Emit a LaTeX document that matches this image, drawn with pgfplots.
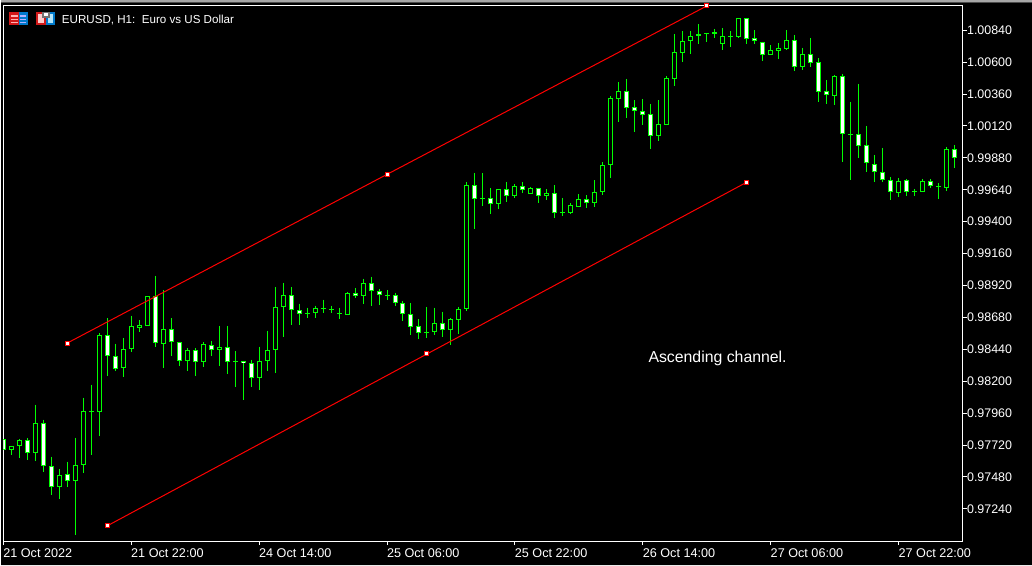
\documentclass[border=0pt]{standalone}
\usepackage{fontspec}
\setmainfont{Liberation Sans}
\usepackage{pgfplots}
\usepackage{pgfplotstable}
\pgfplotsset{compat=1.18}

\definecolor{candle}{RGB}{0,255,0}
\definecolor{chan}{RGB}{255,0,0}

% x = bar number (8 px per bar), h = high, t/b = top and bottom of the body, l = low
% rising bars, hollow (black)
\pgfplotstableread{
x h t b l
1 0.97713 0.97713 0.97680 0.97643
2 0.97765 0.97758 0.97710 0.97625
4 0.98024 0.97886 0.97660 0.97603
7 0.97540 0.97495 0.97402 0.97317
9 0.97775 0.97570 0.97447 0.97046
10 0.98076 0.97976 0.97568 0.97512
11 0.98174 0.97976 0.97966 0.97648
12 0.98562 0.98547 0.97966 0.97791
15 0.98527 0.98442 0.98297 0.98234
16 0.98693 0.98615 0.98439 0.98422
17 0.98662 0.98622 0.98600 0.98572
18 0.98840 0.98840 0.98612 0.98612
20 0.98888 0.98592 0.98477 0.98302
23 0.98450 0.98434 0.98349 0.98279
25 0.98495 0.98480 0.98342 0.98309
27 0.98617 0.98457 0.98432 0.98317
29 0.98429 0.98352 0.98342 0.98159
32 0.98460 0.98352 0.98221 0.98134
33 0.98580 0.98434 0.98349 0.98279
34 0.98910 0.98758 0.98432 0.98264
35 0.98941 0.98848 0.98755 0.98535
38 0.98753 0.98713 0.98702 0.98677
39 0.98768 0.98750 0.98710 0.98677
40 0.98813 0.98750 0.98740 0.98715
41 0.98768 0.98745 0.98735 0.98715
42 0.98753 0.98713 0.98702 0.98670
43 0.98873 0.98863 0.98695 0.98695
45 0.98971 0.98938 0.98838 0.98783
48 0.98888 0.98850 0.98845 0.98813
53 0.98760 0.98572 0.98562 0.98527
54 0.98753 0.98637 0.98567 0.98550
56 0.98675 0.98667 0.98582 0.98475
57 0.98760 0.98743 0.98657 0.98557
58 0.99697 0.99675 0.98740 0.98725
60 0.99767 0.99580 0.99570 0.99519
62 0.99645 0.99645 0.99532 0.99497
64 0.99682 0.99667 0.99590 0.99580
66 0.99662 0.99652 0.99612 0.99612
68 0.99645 0.99615 0.99590 0.99564
70 0.99580 0.99474 0.99467 0.99444
71 0.99539 0.99524 0.99467 0.99459
72 0.99607 0.99570 0.99514 0.99514
74 0.99712 0.99622 0.99544 0.99512
75 0.99848 0.99825 0.99620 0.99602
76 1.00344 1.00329 0.99823 0.99730
77 1.00449 1.00381 1.00326 1.00151
82 1.00314 1.00133 1.00041 1.00008
83 1.00494 1.00479 1.00131 1.00131
84 1.00812 1.00674 1.00476 1.00421
85 1.00832 1.00757 1.00672 1.00602
86 1.00832 1.00795 1.00757 1.00662
87 1.00887 1.00810 1.00795 1.00737
88 1.00817 1.00817 1.00810 1.00752
89 1.00850 1.00825 1.00815 1.00782
90 1.00857 1.00795 1.00740 1.00692
91 1.00832 1.00797 1.00792 1.00714
92 1.00930 1.00930 1.00792 1.00782
96 1.00730 1.00689 1.00657 1.00657
97 1.00745 1.00704 1.00687 1.00624
98 1.00842 1.00765 1.00702 1.00694
100 1.00707 1.00659 1.00567 1.00542
104 1.00504 1.00494 1.00349 1.00279
106 1.00301 1.00061 1.00056 0.99715
112 0.99730 0.99705 0.99617 0.99587
114 0.99647 0.99630 0.99625 0.99595
115 0.99722 0.99705 0.99627 0.99627
117 0.99692 0.99670 0.99665 0.99572
118 0.99963 0.99945 0.99657 0.99632
}\bull

% falling bars, filled (white)
\pgfplotstableread{
x h t b l
0 0.97765 0.97765 0.97683 0.97683
3 0.97773 0.97758 0.97660 0.97610
5 0.97911 0.97886 0.97560 0.97520
6 0.97633 0.97563 0.97402 0.97347
8 0.97595 0.97502 0.97447 0.97407
13 0.98675 0.98547 0.98387 0.98242
14 0.98482 0.98389 0.98289 0.98279
19 0.98993 0.98840 0.98487 0.98460
21 0.98675 0.98592 0.98492 0.98392
22 0.98495 0.98495 0.98349 0.98317
24 0.98450 0.98434 0.98342 0.98242
26 0.98505 0.98472 0.98432 0.98392
28 0.98617 0.98457 0.98342 0.98257
30 0.98352 0.98352 0.98334 0.98061
31 0.98362 0.98337 0.98221 0.98159
36 0.98910 0.98848 0.98735 0.98625
37 0.98783 0.98735 0.98702 0.98625
44 0.98903 0.98863 0.98838 0.98828
46 0.98986 0.98938 0.98875 0.98768
47 0.98895 0.98878 0.98845 0.98775
49 0.98865 0.98848 0.98785 0.98768
50 0.98805 0.98788 0.98702 0.98655
51 0.98790 0.98705 0.98605 0.98550
52 0.98667 0.98615 0.98560 0.98520
55 0.98723 0.98637 0.98582 0.98535
59 0.99767 0.99675 0.99570 0.99347
61 0.99655 0.99577 0.99532 0.99459
63 0.99700 0.99645 0.99590 0.99549
65 0.99700 0.99667 0.99642 0.99617
67 0.99652 0.99652 0.99590 0.99542
69 0.99675 0.99615 0.99469 0.99429
73 0.99600 0.99570 0.99544 0.99504
78 1.00474 1.00381 1.00259 1.00181
79 1.00314 1.00261 1.00231 1.00076
80 1.00324 1.00231 1.00206 1.00128
81 1.00286 1.00208 1.00041 0.99948
93 1.00930 1.00930 1.00777 1.00737
94 1.00842 1.00780 1.00757 1.00737
95 1.00750 1.00750 1.00657 1.00609
99 1.00805 1.00765 1.00567 1.00534
101 1.00782 1.00659 1.00597 1.00564
102 1.00629 1.00599 1.00379 1.00301
103 1.00466 1.00381 1.00356 1.00286
105 1.00511 1.00494 1.00056 0.99850
107 1.00436 1.00058 0.99973 0.99880
108 1.00121 0.99975 0.99838 0.99775
109 0.99903 0.99833 0.99777 0.99700
110 0.99955 0.99772 0.99710 0.99702
111 0.99737 0.99712 0.99627 0.99564
113 0.99722 0.99712 0.99627 0.99595
116 0.99722 0.99705 0.99665 0.99655
119 0.99978 0.99945 0.99878 0.99805
}\bear

% wick, body outline and body fill, each as a vertical quiver stroke
\newcommand{\candles}[2]{
  \addplot[candle, line width=1bp, forget plot, quiver={u=0, v={\thisrow{l}-\thisrow{h}}}]
    table[x=x, y=h] {#1};
  \addplot[candle, line width=5bp, forget plot, quiver={u=0, v={min(\thisrow{b}-\thisrow{t},-0.000075)}}]
    table[x=x, y=t] {#1};
  \addplot[#2, line width=3bp, forget plot, quiver={u=0, v={min(\thisrow{b}-\thisrow{t}+0.00015,0)}}]
    table[x=x, y expr={\thisrow{t}-0.000075}] {#1};
}

\begin{document}
\begin{tikzpicture}
% window behind the chart, in pixels of the screenshot (1 bp = 1 px)
\begin{scope}[x=1bp,y=-1bp,shift={(-2.5bp,541.5bp)}]
  \fill[black] (0,0) rectangle (1032,566);
  \fill[black!35] (0,0) rectangle (1032,2);
  \fill[black!70] (0,2) rectangle (1032,3);
  \fill[black!8] (0,565) rectangle (1032,566);
\end{scope}

\begin{axis}[
  scale only axis,
  width=960bp, height=536bp,
  xmin=0, xmax=120,
  ymin=0.969975, ymax=1.010264,
  axis line style={white, line width=1bp},
  tick style={white, line width=1bp},
  major tick length=4bp,
  tick align=outside,
  xtick pos=left, ytick pos=right,
  yticklabel pos=right,
  xtick={0,16,32,48,64,80,96,112},
  xticklabels={21 Oct 2022,21 Oct 22:00,24 Oct 14:00,25 Oct 06:00,25 Oct 22:00,26 Oct 14:00,27 Oct 06:00,27 Oct 22:00},
  ytick={0.9724,0.9748,0.9772,0.9796,0.982,0.9844,0.9868,0.9892,0.9916,0.994,0.9964,0.9988,1.0012,1.0036,1.006,1.0084},
  scaled y ticks=false,
  ticklabel style={white},
  x tick label style={anchor=north west, xshift=-3.5bp, yshift=-0.5bp, font=\fontsize{12.7}{13}\selectfont},
  y tick label style={anchor=west, xshift=-3bp, font=\fontsize{12.5}{12.5}\selectfont,
    /pgf/number format/fixed, /pgf/number format/fixed zerofill, /pgf/number format/precision=5,
    /pgf/number format/1000 sep={}, /pgf/number format/assume math mode=true},
]
\candles{\bull}{black}
\candles{\bear}{white}

% channel lines with their anchor points
\addplot[chan, line width=1bp, mark=square*, mark size=2bp, mark options={fill=white, solid}, forget plot]
  coordinates {(8,0.98487) (48,0.99756) (88,1.01023)};
\addplot[chan, line width=1bp, mark=square*, mark size=2bp, mark options={fill=white, solid}, forget plot]
  coordinates {(13,0.97112) (53,0.98405) (93,0.99697)};
\end{axis}

% title, comment and the two toolbar icons
\begin{scope}[x=1bp,y=-1bp,shift={(-2.5bp,541.5bp)}]
  \node[anchor=west, inner sep=0pt, white, font=\fontsize{11.65}{12}\selectfont] at (61,20) {EURUSD, H1:\ \ Euro vs US Dollar};
  \node[anchor=west, inner sep=0pt, white, font=\fontsize{15.9}{16}\selectfont] at (648,358.5) {Ascending channel.};

  \fill[red!80!black!90!white] (8,12) rectangle (18,25);
  \fill[blue!40!cyan!80!black] (18,12) rectangle (27,25);
  \fill[white!70!red] (10,15) rectangle (17,17);
  \fill[white!70!red] (10,19) rectangle (17,20);
  \fill[white!70!red] (10,22) rectangle (17,23);
  \fill[white!70!blue] (19,15) rectangle (25,17);
  \fill[white!70!blue] (19,19) rectangle (25,20);
  \fill[white!70!blue] (19,22) rectangle (25,23);

  \fill[red!80!black!90!white] (35,12) rectangle (45,25);
  \fill[blue!40!cyan!80!black] (45,12) rectangle (54,25);
  \fill[red!20!white] (37,14) rectangle (43,23);
  \fill[cyan!30!white] (47,14) rectangle (52,23);
  \fill[black!55] (41,12) rectangle (49,18);
  \fill[white] (43,13) rectangle (47,16);
\end{scope}
\end{tikzpicture}
\end{document}
